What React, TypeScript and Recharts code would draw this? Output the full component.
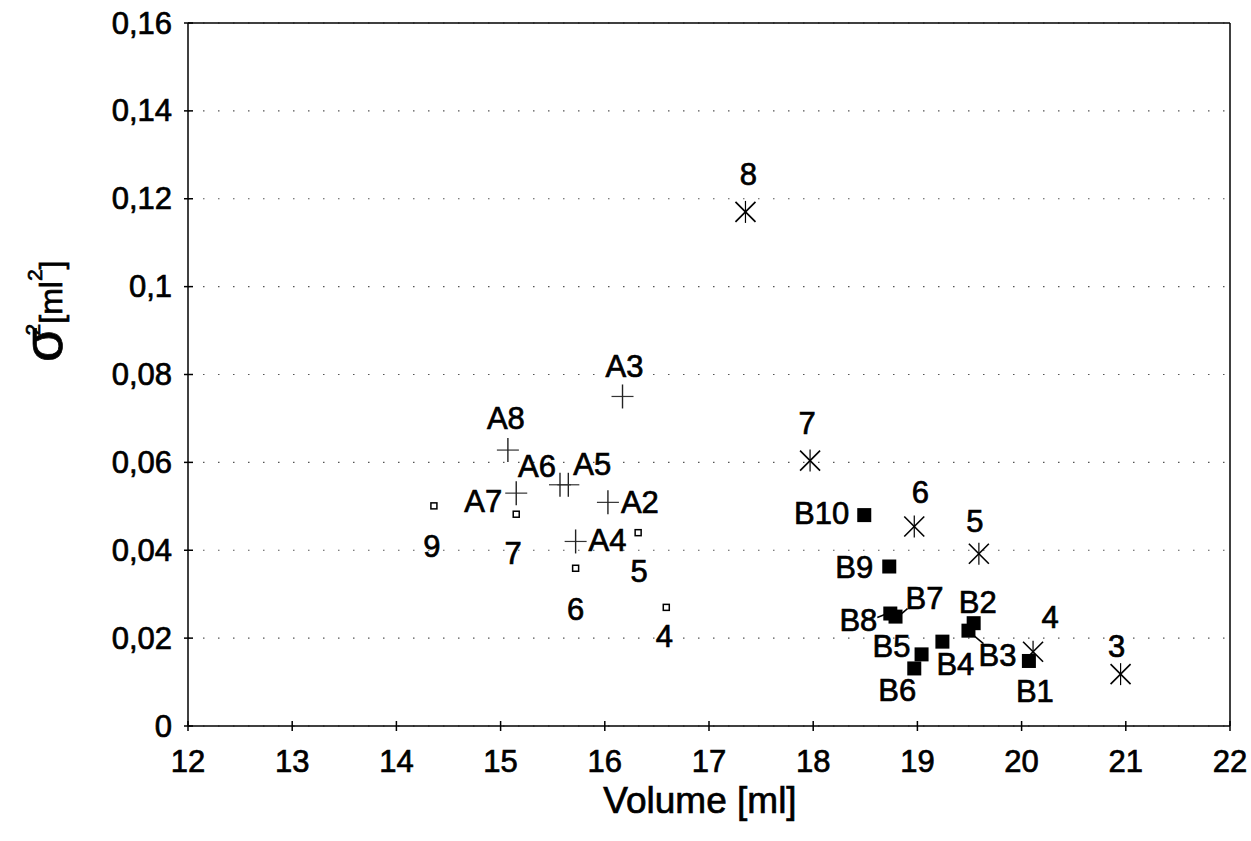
import React from "react";
import {
  ScatterChart,
  Scatter,
  XAxis,
  YAxis,
  CartesianGrid,
  ReferenceLine,
  Label,
} from "recharts";

// ---------- data ----------
const xTicks = [12, 13, 14, 15, 16, 17, 18, 19, 20, 21, 22];
const xTickLabels = ["12", "13", "14", "15", "16", "17", "18", "19", "20", "21", "22"];
const yTicks = [0, 0.02, 0.04, 0.06, 0.08, 0.1, 0.12, 0.14, 0.16];
const yTickLabels = ["0", "0,02", "0,04", "0,06", "0,08", "0,1", "0,12", "0,14", "0,16"];

// "+" series
const plusNames = ["A2", "A3", "A4", "A5", "A6", "A7", "A8"];
const plusVolume = [16.03, 16.17, 15.72, 15.65, 15.57, 15.15, 15.07];
const plusVariance = [0.0509, 0.075, 0.042, 0.0549, 0.0549, 0.053, 0.0628];

// open square series
const openNames = ["4", "5", "6", "7", "9"];
const openVolume = [16.59, 16.32, 15.72, 15.15, 14.36];
const openVariance = [0.027, 0.044, 0.0359, 0.0482, 0.0501];

// asterisk series
const starNames = ["3", "4", "5", "6", "7", "8"];
const starVolume = [20.95, 20.11, 19.59, 18.97, 17.97, 17.35];
const starVariance = [0.0118, 0.0169, 0.0392, 0.0454, 0.0604, 0.117];

// filled square series
const boxNames = ["B1", "B2", "B3", "B4", "B5", "B6", "B7", "B8", "B9", "B10"];
const boxVolume = [20.07, 19.54, 19.49, 19.24, 19.04, 18.97, 18.79, 18.74, 18.73, 18.49];
const boxVariance = [0.0148, 0.0234, 0.0217, 0.0192, 0.0163, 0.0131, 0.0249, 0.0256, 0.0363, 0.048];

const build = (names: string[], xs: number[], ys: number[]) =>
  names.map((n, i) => ({ name: n, x: xs[i], y: ys[i] }));

const plusData = build(plusNames, plusVolume, plusVariance);
const openData = build(openNames, openVolume, openVariance);
const starData = build(starNames, starVolume, starVariance);
const boxData = build(boxNames, boxVolume, boxVariance);

// ---------- label placement (style, not data) ----------
type Place = { dx: number; dy: number; anchor?: "start" | "middle" | "end"; leader?: number[] };
const placement: Record<string, Place> = {
  "A:A3": { dx: 2, dy: -30 },
  "A:A8": { dx: -2, dy: -32 },
  "A:A6": { dx: -23, dy: -18 },
  "A:A5": { dx: 24, dy: -20 },
  "A:A7": { dx: -14, dy: 8, anchor: "end" },
  "A:A2": { dx: 13, dy: 0, anchor: "start" },
  "A:A4": { dx: 13, dy: -1, anchor: "start" },
  "O:9": { dx: -2, dy: 41 },
  "O:7": { dx: -3, dy: 39 },
  "O:5": { dx: 1, dy: 39 },
  "O:6": { dx: 0, dy: 41 },
  "O:4": { dx: -2, dy: 29 },
  "S:8": { dx: 3, dy: -37 },
  "S:7": { dx: -3, dy: -37 },
  "S:6": { dx: 6, dy: -34 },
  "S:5": { dx: -4, dy: -32 },
  "S:4": { dx: 17, dy: -34 },
  "S:3": { dx: -4, dy: -28 },
  "B:B10": { dx: -15, dy: -2, anchor: "end" },
  "B:B9": { dx: -16, dy: 1, anchor: "end" },
  "B:B8": { dx: -13, dy: 7, anchor: "end", leader: [-13, 4, -3, 0] },
  "B:B7": { dx: 10, dy: -18, anchor: "start", leader: [12, -8, 5, -2] },
  "B:B2": { dx: 4, dy: -21 },
  "B:B3": { dx: 29, dy: 25, leader: [3, 3, 15, 13] },
  "B:B4": { dx: 13, dy: 23 },
  "B:B5": { dx: -30, dy: -8 },
  "B:B6": { dx: -17, dy: 22 },
  "B:B1": { dx: 6, dy: 31 },
};

const FONT = "'Liberation Sans', Arial, Helvetica, sans-serif";
const TEXT_SIZE = 31;
const TEXT_STROKE = 0.7;

const PointLabel = ({ cx, cy, k, name }: { cx: number; cy: number; k: string; name: string }) => {
  const p = placement[`${k}:${name}`] || { dx: 0, dy: -30 };
  return (
    <g>
      {p.leader && (
        <line
          x1={cx + p.leader[0]}
          y1={cy + p.leader[1]}
          x2={cx + p.leader[2]}
          y2={cy + p.leader[3]}
          stroke="#000"
          strokeWidth={1.5}
        />
      )}
      <text
        x={cx + p.dx}
        y={cy + p.dy}
        textAnchor={p.anchor || "middle"}
        dominantBaseline="central"
        fontFamily={FONT}
        fontSize={TEXT_SIZE}
        fill="#000"
        stroke="#000"
        strokeWidth={TEXT_STROKE}
      >
        {name}
      </text>
    </g>
  );
};

const center = (props: any) => {
  const cx = props.cx ?? props.x + (props.width || 0) / 2;
  const cy = props.cy ?? props.y + (props.height || 0) / 2;
  return { cx, cy };
};

const PlusShape = (props: any) => {
  const { cx, cy } = center(props);
  return (
    <g>
      <line x1={cx - 11} y1={cy} x2={cx + 11} y2={cy} stroke="#333" strokeWidth={1.2} />
      <line x1={cx} y1={cy - 12} x2={cx} y2={cy + 12} stroke="#222" strokeWidth={1.4} />
      <PointLabel cx={cx} cy={cy} k="A" name={props.payload.name} />
    </g>
  );
};

const OpenShape = (props: any) => {
  const { cx, cy } = center(props);
  return (
    <g>
      <rect x={cx - 3} y={cy - 3} width={6} height={6} fill="#fff" stroke="#000" strokeWidth={1.5} />
      <PointLabel cx={cx} cy={cy} k="O" name={props.payload.name} />
    </g>
  );
};

const StarShape = (props: any) => {
  const { cx, cy } = center(props);
  return (
    <g>
      <g stroke="#000" strokeWidth={1.6}>
        <line x1={cx - 10} y1={cy - 10} x2={cx + 10} y2={cy + 10} />
        <line x1={cx - 10} y1={cy + 10} x2={cx + 10} y2={cy - 10} />
        <line x1={cx} y1={cy - 11} x2={cx} y2={cy + 11} strokeWidth={1.2} />
      </g>
      <PointLabel cx={cx} cy={cy} k="S" name={props.payload.name} />
    </g>
  );
};

const BoxShape = (props: any) => {
  const { cx, cy } = center(props);
  return (
    <g>
      <rect x={cx - 7} y={cy - 7} width={14} height={14} fill="#000" />
      <PointLabel cx={cx} cy={cy} k="B" name={props.payload.name} />
    </g>
  );
};

const XTick = (props: any) => {
  const { x, y, payload } = props;
  const i = xTicks.indexOf(payload.value);
  return (
    <g>
      <line x1={x} y1={y - 5} x2={x} y2={y + 5} stroke="#000" strokeWidth={1.5} />
      <text
        x={x}
        y={y + 35}
        textAnchor="middle"
        dominantBaseline="central"
        fontFamily={FONT}
        fontSize={TEXT_SIZE}
        fill="#000"
        stroke="#000"
        strokeWidth={TEXT_STROKE}
      >
        {i >= 0 ? xTickLabels[i] : payload.value}
      </text>
    </g>
  );
};

const YTick = (props: any) => {
  const { x, y, payload } = props;
  const i = yTicks.indexOf(payload.value);
  return (
    <g>
      <line x1={x - 4} y1={y} x2={x + 5} y2={y} stroke="#000" strokeWidth={1.5} />
      <text
        x={x - 16}
        y={y}
        textAnchor="end"
        dominantBaseline="central"
        fontFamily={FONT}
        fontSize={TEXT_SIZE}
        fill="#000"
        stroke="#000"
        strokeWidth={TEXT_STROKE}
      >
        {i >= 0 ? yTickLabels[i] : payload.value}
      </text>
    </g>
  );
};

const YTitle = () => (
  <text
    transform="translate(62,362) rotate(-90)"
    fontFamily={FONT}
    fill="#000"
    stroke="#000"
    strokeWidth={TEXT_STROKE}
  >
    <tspan fontSize={56}>σ</tspan>
    <tspan fontSize={21} dx={-8} dy={-22}>2</tspan>
    <tspan fontSize={32} dy={22}>[ml</tspan>
    <tspan fontSize={21} dy={-20}>2</tspan>
    <tspan fontSize={32} dy={20}>]</tspan>
  </text>
);

const XTitle = () => (
  <text
    x={700}
    y={800}
    textAnchor="middle"
    dominantBaseline="central"
    fontFamily={FONT}
    fontSize={37}
    fill="#000"
    stroke="#000"
    strokeWidth={TEXT_STROKE}
  >
    Volume [ml]
  </text>
);

export default function App() {
  return (
    <div style={{ position: "absolute", left: 0, top: 0, width: 1251, height: 841, background: "#fff" }}>
      <ScatterChart
        width={1251}
        height={841}
        margin={{ top: 23, right: 21, bottom: 0, left: 0 }}
      >
        <CartesianGrid
          horizontal={true}
          vertical={false}
          stroke="#555"
          strokeDasharray="1.5 13.5"
          strokeWidth={1.2}
        />
        <XAxis
          type="number"
          dataKey="x"
          domain={[12, 22]}
          ticks={xTicks}
          interval={0}
          allowDataOverflow
          height={115}
          tickSize={0}
          tickMargin={0}
          tickLine={false}
          tick={<XTick />}
          axisLine={{ stroke: "#000", strokeWidth: 1.5 }}
        >
          <Label content={<XTitle />} />
        </XAxis>
        <YAxis
          type="number"
          dataKey="y"
          domain={[0, 0.16]}
          ticks={yTicks}
          interval={0}
          allowDataOverflow
          width={188}
          tickSize={0}
          tickMargin={0}
          tickLine={false}
          tick={<YTick />}
          axisLine={{ stroke: "#000", strokeWidth: 1.5 }}
        >
          <Label content={<YTitle />} />
        </YAxis>
        <ReferenceLine y={0.16} stroke="#000" strokeWidth={1.5} />
        <ReferenceLine x={22} stroke="#000" strokeWidth={1.5} />
        <Scatter data={openData} shape={<OpenShape />} isAnimationActive={false} />
        <Scatter data={plusData} shape={<PlusShape />} isAnimationActive={false} />
        <Scatter data={starData} shape={<StarShape />} isAnimationActive={false} />
        <Scatter data={boxData} shape={<BoxShape />} isAnimationActive={false} />
      </ScatterChart>
    </div>
  );
}
